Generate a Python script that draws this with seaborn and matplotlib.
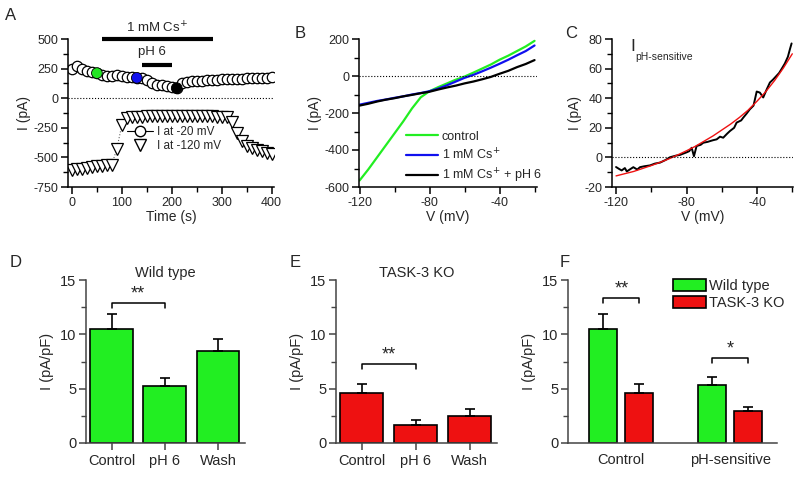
import numpy as np
import pandas as pd
import matplotlib
matplotlib.use("Agg")
import matplotlib.pyplot as plt
import seaborn as sns
from matplotlib.lines import Line2D
from matplotlib.patches import Patch
from matplotlib.ticker import MultipleLocator

# ---- panel A: time course ----
time_s = [0, 10, 20, 30, 40, 50, 60, 70, 80, 90, 100, 110, 120, 130, 140, 150, 160, 170, 180, 190, 200,
          210, 220, 230, 240, 250, 260, 270, 280, 290, 300, 310, 320, 330, 340, 350, 360, 370, 380, 390, 400]
i_m20 = [250, 275, 245, 230, 220, 212, 195, 190, 190, 192, 188, 180, 175, 172, 168, 150, 130, 115, 108, 100, 98,
         85, 125, 140, 145, 145, 148, 150, 150, 155, 158, 160, 162, 165, 165, 168, 170, 170, 172, 172, 175]
i_m120 = [-610, -600, -595, -590, -580, -575, -570, -565, -560, -425, -225, -165, -160, -158, -155, -152, -150, -150,
          -148, -150, -152, -150, -152, -150, -150, -152, -152, -152, -152, -155, -158, -160, -200, -290, -360, -400,
          -420, -440, -450, -460, -470]
highlight_t = [50, 130, 210]
highlight_colors = ["#22e622", "#1010ee", "black"]
cs_period = [60, 282]
ph_period = [140, 200]

# ---- panel B: I-V curves ----
v_b = [-120, -115, -110, -105, -100, -95, -90, -85, -80, -75, -70, -65, -60, -55, -50, -45, -40, -35, -30, -25, -20]
iv_control = [-565, -505, -440, -375, -310, -245, -175, -115, -82, -60, -40, -20, -3, 18, 40, 62, 88, 110, 135, 160, 190]
iv_cs = [-155, -145, -135, -127, -118, -110, -100, -92, -82, -68, -50, -30, -10, 6, 25, 45, 66, 88, 112, 135, 165]
iv_cs_ph = [-160, -150, -138, -128, -120, -110, -102, -93, -85, -73, -62, -52, -40, -30, -18, -5, 12, 28, 48, 65, 86]

# ---- panel C: pH-sensitive current ----
v_c = [-120, -118, -116.8, -115, -113.9, -112, -110.2, -108, -106.4, -104, -100.7, -98, -95, -92, -89.4, -86,
       -83.7, -82, -80, -78.5, -77.1, -75.8, -74.3, -72, -70.5, -68, -66.7, -65, -62.9, -61, -59.2, -57, -55.4,
       -53, -51.6, -49, -47.8, -46, -44.1, -42, -40.2, -38.4, -36.5, -34.5, -32.7, -31, -28.9, -27.5, -26.1,
       -24.2, -22.5, -21.3, -20.4]
i_c = [-6.5, -8.0, -8.8, -7.2, -9.5, -8.0, -6.6, -8.2, -6.6, -6.0, -5.4, -4.2, -3.5, -1.8, 0.1, 1.2,
       1.7, 2.5, 3.4, 4.2, 6.5, 0.8, 7.7, 8.5, 9.9, 10.5, 11.0, 11.6, 12.2, 14.0, 13.3, 16.0, 17.8,
       20.0, 23.5, 25.0, 26.9, 29.5, 32.5, 35.0, 44.5, 43.8, 40.5, 46.0, 50.6, 52.5, 55.2, 57.0, 59.7,
       63.5, 68.0, 73.3, 77.0]
v_fit = [-120, -115, -110, -105, -100, -95, -90, -85, -80, -75, -70, -65, -60, -55, -50, -45, -40, -35, -30, -25, -20]
i_fit = [-12.5, -11, -9.5, -7.5, -5.5, -3.3, -1, 1.7, 4.5, 7.5, 11, 14.5, 18.5, 22.5, 27, 32, 38, 44.5, 52, 60.5, 70]

# ---- panels D-F: current densities ----
conditions = ["Control", "pH 6", "Wash"]
wt_mean = [10.5, 5.2, 8.5]
wt_sem = [1.4, 0.8, 1.1]
ko_mean = [4.6, 1.7, 2.5]
ko_sem = [0.8, 0.4, 0.6]
groups_f = ["Control", "pH-sensitive"]
genotypes = ["Wild type", "TASK-3 KO"]
f_wt_mean = [10.5, 5.3]
f_wt_sem = [1.4, 0.8]
f_ko_mean = [4.6, 2.9]
f_ko_sem = [0.8, 0.45]
sig_d = (12.9, "**")
sig_e = (7.3, "**")
sig_f = [(13.3, "**"), (7.8, "*")]

GREEN = "#22ee22"
RED = "#ee1111"

sns.set_style("ticks")
plt.rcParams["font.family"] = ["Liberation Sans", "DejaVu Sans"]
plt.rcParams["axes.unicode_minus"] = False
plt.rcParams["xtick.direction"] = "out"
plt.rcParams["ytick.direction"] = "out"

fig = plt.figure(figsize=(8, 4.92), dpi=100)


def px_axes(l, t, r, b):
    return fig.add_axes([l / 800, 1 - b / 492, (r - l) / 800, (b - t) / 492])


def style_axes(ax, color="black", fs=9):
    sns.despine(ax=ax)
    for s in ["left", "bottom"]:
        ax.spines[s].set_color(color)
        ax.spines[s].set_linewidth(1.1)
    ax.tick_params(which="major", length=5, width=1.1, color=color, labelsize=fs, pad=2)
    ax.tick_params(which="minor", length=3.5, width=1.0, color=color)


# ---------------- A ----------------
axA = px_axes(68, 39, 274, 187)
sns.lineplot(x=time_s, y=i_m120, ax=axA, color="0.4", lw=0.8, ls=":", marker="v", markersize=8,
             markerfacecolor="white", markeredgecolor="black", markeredgewidth=0.9)
sns.lineplot(x=time_s, y=i_m20, ax=axA, color="black", lw=0.8, marker="o", markersize=7.5,
             markerfacecolor="white", markeredgecolor="black", markeredgewidth=0.9)
hl_vals = [i_m20[time_s.index(t)] for t in highlight_t]
sns.scatterplot(x=highlight_t, y=hl_vals, ax=axA, hue=[str(t) for t in highlight_t],
                palette=highlight_colors, s=60, edgecolor="black", linewidth=0.6, legend=False, zorder=5)
axA.axhline(0, color="black", ls=":", lw=0.8)
axA.plot(cs_period, [500, 500], color="black", lw=3, clip_on=False, solid_capstyle="butt")
axA.text(np.mean(cs_period), 590, "1 mM Cs$^{+}$", ha="center", va="center", fontsize=9.5)
axA.plot(ph_period, [280, 280], color="black", lw=3, solid_capstyle="butt")
axA.text(np.mean(ph_period) - 10, 390, "pH 6", ha="center", va="center", fontsize=9.5)
axA.set_xlim(-8, 405)
axA.set_ylim(-750, 500)
axA.set_xticks([0, 100, 200, 300, 400])
axA.xaxis.set_minor_locator(MultipleLocator(50))
axA.set_yticks([-750, -500, -250, 0, 250, 500])
axA.yaxis.set_minor_locator(MultipleLocator(125))
axA.set_xlabel("Time (s)", fontsize=10, labelpad=1)
axA.set_ylabel("I (pA)", fontsize=10, labelpad=2)
style_axes(axA)
hA = [Line2D([0], [0], color="black", lw=0.8, marker="o", markersize=7.5, markerfacecolor="white",
             markeredgecolor="black"),
      Line2D([0], [0], lw=0, marker="v", markersize=8, markerfacecolor="white", markeredgecolor="black")]
axA.legend(hA, ["I at -20 mV", "I at -120 mV"], loc="upper left", bbox_to_anchor=(0.25, 0.46),
           frameon=False, fontsize=8.5, handlelength=2.2, handletextpad=0.4, labelspacing=0.2,
           borderpad=0.1)

# ---------------- B ----------------
axB = px_axes(359, 39, 537, 187)
iv_df = pd.DataFrame({
    "V": v_b * 3,
    "I": iv_control + iv_cs + iv_cs_ph,
    "cond": ["control"] * len(v_b) + ["1 mM Cs$^{+}$"] * len(v_b) + ["1 mM Cs$^{+}$ + pH 6"] * len(v_b),
})
sns.lineplot(data=iv_df, x="V", y="I", hue="cond", ax=axB, lw=1.6,
             palette=[GREEN, "#1010ee", "black"])
axB.axhline(0, color="black", ls=":", lw=0.8)
axB.set_xlim(-120.3, -18.6)
axB.set_ylim(-600, 200)
axB.set_xticks([-120, -80, -40])
axB.xaxis.set_minor_locator(MultipleLocator(20))
axB.set_yticks([-600, -400, -200, 0, 200])
axB.yaxis.set_minor_locator(MultipleLocator(100))
axB.set_xlabel("V (mV)", fontsize=10, labelpad=1)
axB.set_ylabel("I (pA)", fontsize=10, labelpad=2)
style_axes(axB)
axB.legend(loc="upper left", bbox_to_anchor=(0.22, 0.43), frameon=False, fontsize=9,
           handlelength=2.6, handletextpad=0.3, labelspacing=0.35, borderpad=0.1)

# ---------------- C ----------------
axC = px_axes(612, 39, 793, 187)
sns.lineplot(x=v_c, y=i_c, ax=axC, color="black", lw=1.4)
sns.lineplot(x=v_fit, y=i_fit, ax=axC, color="#ee1111", lw=1.0)
axC.axhline(0, color="black", ls=":", lw=0.8)
axC.set_xlim(-122.3, -19.6)
axC.set_ylim(-20, 80)
axC.set_xticks([-120, -80, -40])
axC.xaxis.set_minor_locator(MultipleLocator(20))
axC.set_yticks([-20, 0, 20, 40, 60, 80])
axC.yaxis.set_minor_locator(MultipleLocator(10))
axC.set_xlabel("V (mV)", fontsize=10, labelpad=1)
axC.set_ylabel("I (pA)", fontsize=10, labelpad=2)
style_axes(axC)
axC.text(0.1, 1.0, "I", transform=axC.transAxes, fontsize=12.5, va="top", ha="left")
axC.text(0.128, 0.915, "pH-sensitive", transform=axC.transAxes, fontsize=7.5, va="top", ha="left")


# ---------------- D / E ----------------
def bar_panel(ax, means, sems, color, title, sig):
    sns.barplot(x=conditions, y=means, ax=ax, color=color, edgecolor="black", linewidth=1.2,
                width=0.8, saturation=1)
    bars = ax.containers[0]
    xs = [p.get_x() + p.get_width() / 2 for p in bars]
    ax.errorbar(xs, means, yerr=[np.zeros(len(means)), sems], fmt="none", ecolor="black",
                elinewidth=1.2, capsize=3.5, capthick=1.2, zorder=3)
    h, star = sig
    ax.plot([xs[0], xs[0], xs[1], xs[1]], [h - 0.45, h, h, h - 0.45], color="black", lw=1.1)
    ax.text((xs[0] + xs[1]) / 2, h + 0.05, star, ha="center", va="bottom", fontsize=13)
    ax.set_xlim(-0.48, 2.51)
    ax.set_ylim(0, 15)
    ax.set_yticks([0, 5, 10, 15])
    ax.yaxis.set_minor_locator(MultipleLocator(2.5))
    ax.set_ylabel("I (pA/pF)", fontsize=10.5, labelpad=4)
    ax.set_title(title, fontsize=10.5, pad=1)
    style_axes(ax, color="#444444", fs=10.5)
    ax.tick_params(axis="x", pad=3)


axD = px_axes(86, 280, 245, 443)
bar_panel(axD, wt_mean, wt_sem, GREEN, "Wild type", sig_d)
axE = px_axes(336, 280, 497, 443)
bar_panel(axE, ko_mean, ko_sem, RED, "TASK-3 KO", sig_e)

# ---------------- F ----------------
axF = px_axes(568, 280, 777, 443)
f_df = pd.DataFrame({
    "group": groups_f * 2,
    "genotype": [genotypes[0]] * 2 + [genotypes[1]] * 2,
    "mean": f_wt_mean + f_ko_mean,
})
sns.barplot(data=f_df, x="group", y="mean", hue="genotype", ax=axF, palette=[GREEN, RED],
            edgecolor="black", linewidth=1.2, width=0.66, gap=0.22, saturation=1, legend=False)
for cont, m, e in zip(axF.containers, [f_wt_mean, f_ko_mean], [f_wt_sem, f_ko_sem]):
    xs = [p.get_x() + p.get_width() / 2 for p in cont]
    axF.errorbar(xs, m, yerr=[np.zeros(len(m)), e], fmt="none", ecolor="black",
                 elinewidth=1.2, capsize=3.5, capthick=1.2, zorder=3)
wt_x = [p.get_x() + p.get_width() / 2 for p in axF.containers[0]]
ko_x = [p.get_x() + p.get_width() / 2 for p in axF.containers[1]]
for i, (h, star) in enumerate(sig_f):
    axF.plot([wt_x[i], wt_x[i], ko_x[i], ko_x[i]], [h - 0.45, h, h, h - 0.45], color="black", lw=1.1)
    axF.text((wt_x[i] + ko_x[i]) / 2, h + 0.05, star, ha="center", va="bottom", fontsize=13)
axF.set_xlim(-0.49, 1.43)
axF.set_ylim(0, 15)
axF.set_yticks([0, 5, 10, 15])
axF.yaxis.set_minor_locator(MultipleLocator(2.5))
axF.set_xlabel("")
axF.set_ylabel("I (pA/pF)", fontsize=10.5, labelpad=4)
style_axes(axF, color="#444444", fs=10.5)
axF.tick_params(axis="x", length=0, pad=7)
hF = [Patch(facecolor=GREEN, edgecolor="black", linewidth=1.2),
      Patch(facecolor=RED, edgecolor="black", linewidth=1.2)]
axF.legend(hF, genotypes, loc="upper left", bbox_to_anchor=(0.46, 1.06), frameon=False, fontsize=10.5,
           handlelength=2.3, handleheight=0.9, handletextpad=0.2, labelspacing=0.2, borderpad=0.1)

for ax in [axD, axE]:
    ax.set_xlabel("")

# panel letters
for letter, x, y in [("A", 5, 8), ("B", 295, 26), ("C", 565, 26), ("D", 10, 255), ("E", 290, 255), ("F", 560, 255)]:
    fig.text(x / 800, 1 - y / 492, letter, fontsize=12, ha="left", va="top")

fig.savefig("out.png", dpi=100)
